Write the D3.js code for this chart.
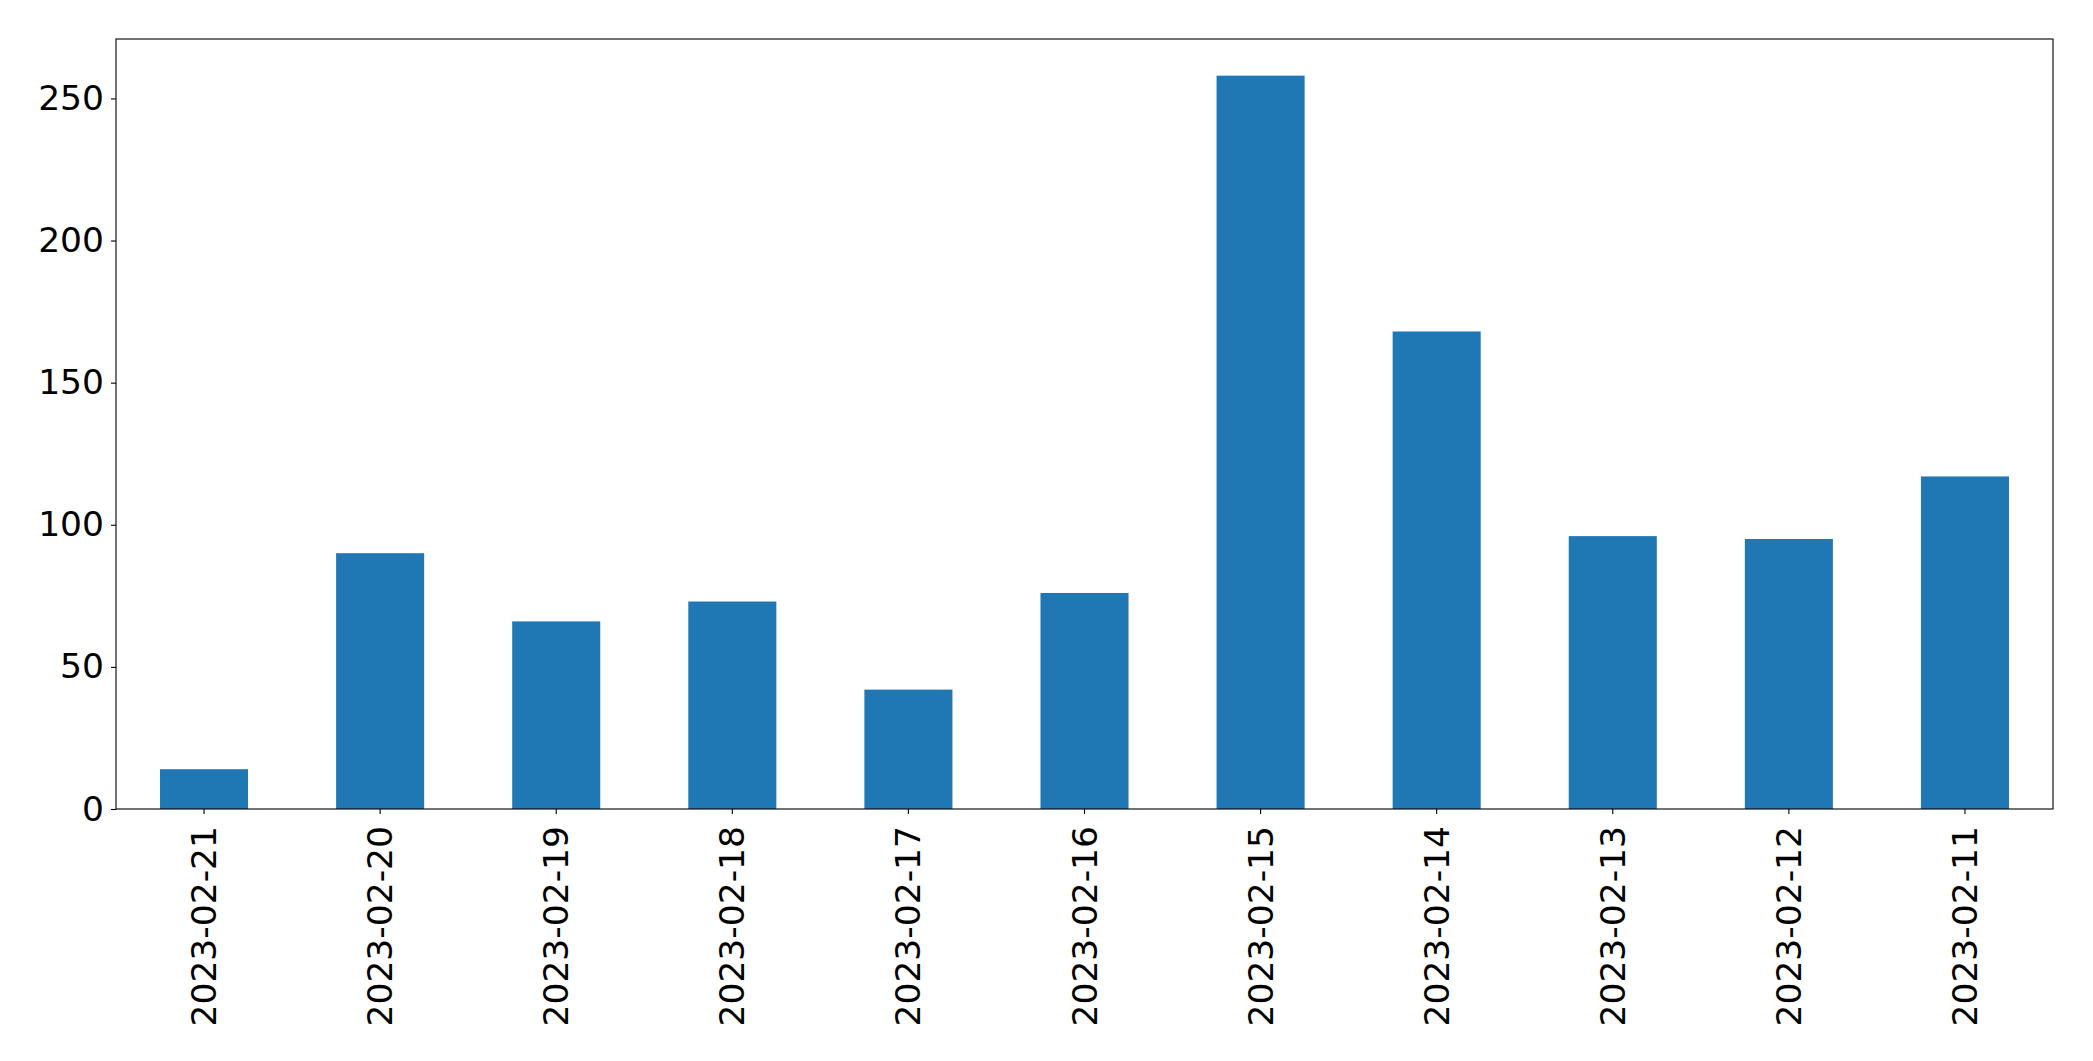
<!DOCTYPE html>
<html>
<head>
<meta charset="utf-8">
<script src="https://cdn.jsdelivr.net/npm/d3@7"></script>
<style>
  body { margin: 0; background: #fff; }
  text { font-family: "DejaVu Sans", sans-serif; }
</style>
</head>
<body>
<div id="chart"></div>
<script>
// data
var dates = ["2023-02-21", "2023-02-20", "2023-02-19", "2023-02-18", "2023-02-17",
             "2023-02-16", "2023-02-15", "2023-02-14", "2023-02-13", "2023-02-12", "2023-02-11"];
var counts = [14, 90, 66, 73, 42, 76, 258, 168, 96, 95, 117];
var yTicks = [0, 50, 100, 150, 200, 250];

// set the dimensions and margins of the graph
var margin = {top: 39, right: 40, bottom: 252, left: 116},
    width = 2093 - margin.left - margin.right,
    height = 1061 - margin.top - margin.bottom;

var svg = d3.select("#chart")
  .append("svg")
    .attr("width", 2093)
    .attr("height", 1061)
  .append("g")
    .attr("transform", "translate(" + margin.left + "," + margin.top + ")");

// x: one band per date, bar takes half the band like pandas does
var x = d3.scaleBand()
  .domain(dates)
  .range([0, width])
  .paddingInner(0.5)
  .paddingOuter(0.25);

var y = d3.scaleLinear()
  .domain([0, d3.max(counts) * 1.05])
  .range([height, 0]);

svg.selectAll("rect.bar")
  .data(counts)
  .enter().append("rect")
    .attr("class", "bar")
    .attr("x", function(d, i){ return x(dates[i]); })
    .attr("y", function(d){ return y(d); })
    .attr("width", x.bandwidth())
    .attr("height", function(d){ return height - y(d); })
    .attr("fill", "#1f77b4");

// axes
var xAxis = svg.append("g")
  .attr("transform", "translate(0," + height + ")")
  .call(d3.axisBottom(x).tickSizeInner(5).tickSizeOuter(0).tickPadding(10));
xAxis.selectAll("text")
  .attr("font-size", "34.5px")
  .attr("fill", "#000")
  .attr("transform", "rotate(-90)")
  .attr("dy", "0.35em")
  .attr("x", -17)
  .attr("y", 0)
  .style("text-anchor", "end");

var yAxis = svg.append("g")
  .call(d3.axisLeft(y).tickValues(yTicks).tickSizeInner(5).tickSizeOuter(0).tickPadding(7));
yAxis.selectAll("text")
  .attr("font-size", "34.5px")
  .attr("fill", "#000");

svg.selectAll(".domain").remove();
svg.selectAll(".tick line").attr("stroke", "#000").attr("stroke-width", 1.1);

// frame round the plot
svg.append("rect")
  .attr("width", width)
  .attr("height", height)
  .attr("fill", "none")
  .attr("stroke", "#000")
  .attr("stroke-width", 1.1);
</script>
</body>
</html>
